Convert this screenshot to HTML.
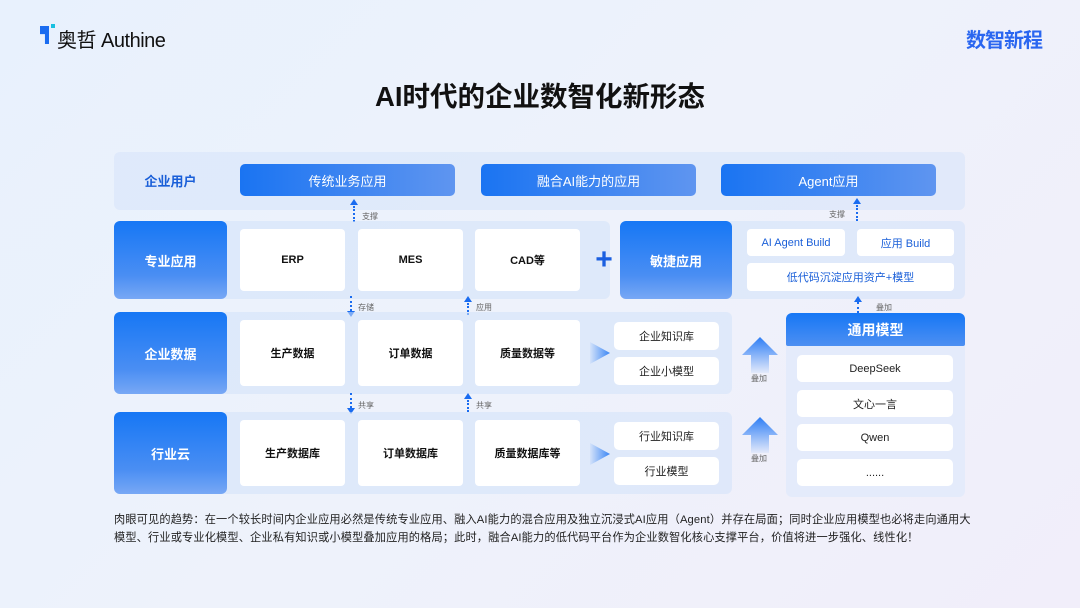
<!DOCTYPE html>
<html><head><meta charset="utf-8"><style>
*{margin:0;padding:0;box-sizing:border-box}
body{width:1080px;height:608px;overflow:hidden;position:relative;font-family:"Liberation Sans","Noto Sans CJK SC",sans-serif;background:linear-gradient(135deg,#e8f1fd 0%,#eef2fb 50%,#f1eefa 100%)}
.a{position:absolute;display:flex;align-items:center;justify-content:center;text-align:center}
.blue{background:linear-gradient(180deg,#1677f5 0%,#4a8ef3 70%,#78a8f5 100%);color:#fff;font-weight:bold;border-radius:6px;font-size:13px}
.btn{background:linear-gradient(90deg,#1a74f2,#5f95f0);color:#fff;border-radius:5px;font-size:13px}
.panel{background:rgba(210,225,250,0.55);border-radius:6px}
.card{background:#fff;border-radius:4px;font-size:11px;color:#111;font-weight:bold}
.card2{background:#fff;border-radius:5px;font-size:11px;color:#222}
.lbl{position:absolute;font-size:8px;color:#666}
.dash{position:absolute;width:0;border-left:2px dotted #1a6cf0}
.up{position:absolute;width:0;height:0;border-left:4px solid transparent;border-right:4px solid transparent;border-bottom:6px solid #1a6cf0}
.dn{position:absolute;width:0;height:0;border-left:4px solid transparent;border-right:4px solid transparent;border-top:6px solid #1a6cf0}
.bigup{position:absolute;width:36px;height:36px;background:linear-gradient(180deg,#2d7ef5,rgba(120,170,250,0.1));clip-path:polygon(50% 0,100% 50%,75% 50%,75% 100%,25% 100%,25% 50%,0 50%)}
.chev{position:absolute;width:20px;height:22px;background:linear-gradient(90deg,rgba(120,170,250,0.1),#3a86f5);clip-path:polygon(0 0,100% 50%,0 100%)}
</style></head><body>
<div style="position:absolute;left:40px;top:26px;width:9px;height:18px;background:#1a6cf0;clip-path:polygon(0 0,100% 0,100% 100%,55% 100%,55% 45%,0 45%)"></div>
<div style="position:absolute;left:51px;top:24px;width:4px;height:4px;background:#18c0e0"></div>
<div style="position:absolute;left:57px;top:24px;font-size:20px;color:#111;letter-spacing:-0.5px">奥哲 Authine</div>
<div style="position:absolute;left:966px;top:24px;font-size:20px;font-weight:bold;color:#2a66f0;letter-spacing:-1px">数智新程</div>
<div style="position:absolute;left:0;width:1080px;top:74px;text-align:center;font-size:27.5px;font-weight:bold;color:#111">AI时代的企业数智化新形态</div>

<div class="panel" style="position:absolute;left:114px;top:152px;width:851px;height:58px;background:rgba(215,228,250,0.6)"></div>
<div class="a" style="left:114px;top:164px;width:113px;height:32px;color:#1a5fd8;font-weight:bold;font-size:13px">企业用户</div>
<div class="a btn" style="left:240px;top:164px;width:215px;height:32px">传统业务应用</div>
<div class="a btn" style="left:481px;top:164px;width:215px;height:32px">融合AI能力的应用</div>
<div class="a btn" style="left:721px;top:164px;width:215px;height:32px">Agent应用</div>

<div class="up" style="left:350px;top:199px"></div><div class="dash" style="left:353px;top:206px;height:16px"></div><div class="lbl" style="left:362px;top:211px">支撑</div>
<div class="up" style="left:853px;top:198px"></div><div class="dash" style="left:856px;top:205px;height:16px"></div><div class="lbl" style="left:829px;top:209px">支撑</div>

<div class="panel" style="position:absolute;left:220px;top:221px;width:390px;height:78px"></div>
<div class="a blue" style="left:114px;top:221px;width:113px;height:78px">专业应用</div>
<div class="a card" style="left:240px;top:229px;width:105px;height:62px">ERP</div>
<div class="a card" style="left:358px;top:229px;width:105px;height:62px">MES</div>
<div class="a card" style="left:475px;top:229px;width:105px;height:62px">CAD等</div>
<div class="a" style="left:592px;top:246px;width:24px;height:28px;color:#1a5fe0;font-size:30px;font-weight:bold">+</div>
<div class="panel" style="position:absolute;left:725px;top:221px;width:240px;height:78px"></div>
<div class="a blue" style="left:620px;top:221px;width:112px;height:78px">敏捷应用</div>
<div class="a card" style="left:747px;top:229px;width:98px;height:27px;color:#1a5fd8;font-weight:normal">AI Agent Build</div>
<div class="a card" style="left:857px;top:229px;width:97px;height:27px;color:#1a5fd8;font-weight:normal">应用 Build</div>
<div class="a card" style="left:747px;top:263px;width:207px;height:28px;color:#1a5fd8;font-weight:normal">低代码沉淀应用资产+模型</div>

<div class="dash" style="left:350px;top:296px;height:15px"></div><div class="dn" style="left:347px;top:311px"></div><div class="lbl" style="left:358px;top:302px">存储</div>
<div class="up" style="left:464px;top:296px"></div><div class="dash" style="left:467px;top:303px;height:12px"></div><div class="lbl" style="left:476px;top:302px">应用</div>
<div class="up" style="left:854px;top:296px"></div><div class="dash" style="left:857px;top:302px;height:11px"></div><div class="lbl" style="left:876px;top:302px">叠加</div>

<div class="panel" style="position:absolute;left:220px;top:312px;width:512px;height:82px"></div>
<div class="a blue" style="left:114px;top:312px;width:113px;height:82px">企业数据</div>
<div class="a card" style="left:240px;top:320px;width:105px;height:66px">生产数据</div>
<div class="a card" style="left:358px;top:320px;width:105px;height:66px">订单数据</div>
<div class="a card" style="left:475px;top:320px;width:105px;height:66px">质量数据等</div>
<div class="chev" style="left:590px;top:342px"></div>
<div class="a card2" style="left:614px;top:322px;width:105px;height:28px">企业知识库</div>
<div class="a card2" style="left:614px;top:357px;width:105px;height:28px">企业小模型</div>

<div class="dash" style="left:350px;top:393px;height:15px"></div><div class="dn" style="left:347px;top:408px"></div><div class="lbl" style="left:358px;top:400px">共享</div>
<div class="up" style="left:464px;top:393px"></div><div class="dash" style="left:467px;top:400px;height:12px"></div><div class="lbl" style="left:476px;top:400px">共享</div>

<div class="panel" style="position:absolute;left:220px;top:412px;width:512px;height:82px"></div>
<div class="a blue" style="left:114px;top:412px;width:113px;height:82px">行业云</div>
<div class="a card" style="left:240px;top:420px;width:105px;height:66px">生产数据库</div>
<div class="a card" style="left:358px;top:420px;width:105px;height:66px">订单数据库</div>
<div class="a card" style="left:475px;top:420px;width:105px;height:66px">质量数据库等</div>
<div class="chev" style="left:590px;top:443px"></div>
<div class="a card2" style="left:614px;top:422px;width:105px;height:28px">行业知识库</div>
<div class="a card2" style="left:614px;top:457px;width:105px;height:28px">行业模型</div>

<div class="bigup" style="left:742px;top:337px"></div><div class="lbl" style="left:751px;top:373px">叠加</div>
<div class="bigup" style="left:742px;top:417px"></div><div class="lbl" style="left:751px;top:453px">叠加</div>

<div class="panel" style="position:absolute;left:786px;top:330px;width:179px;height:167px;background:rgba(220,232,252,0.6)"></div>
<div class="a" style="left:786px;top:313px;width:179px;height:33px;background:linear-gradient(180deg,#1677f5,#4d8ff2);color:#fff;font-weight:bold;font-size:14px;border-radius:6px 6px 2px 2px">通用模型</div>
<div class="a card2" style="left:797px;top:355px;width:156px;height:27px">DeepSeek</div>
<div class="a card2" style="left:797px;top:390px;width:156px;height:27px">文心一言</div>
<div class="a card2" style="left:797px;top:424px;width:156px;height:27px">Qwen</div>
<div class="a card2" style="left:797px;top:459px;width:156px;height:27px">......</div>

<div style="position:absolute;left:114px;top:511px;width:858px;font-size:11.2px;letter-spacing:0.15px;line-height:18px;color:#222">肉眼可见的趋势：在一个较长时间内企业应用必然是传统专业应用、融入AI能力的混合应用及独立沉浸式AI应用（Agent）并存在局面；同时企业应用模型也必将走向通用大模型、行业或专业化模型、企业私有知识或小模型叠加应用的格局；此时，融合AI能力的低代码平台作为企业数智化核心支撑平台，价值将进一步强化、线性化！</div>
</body></html>
